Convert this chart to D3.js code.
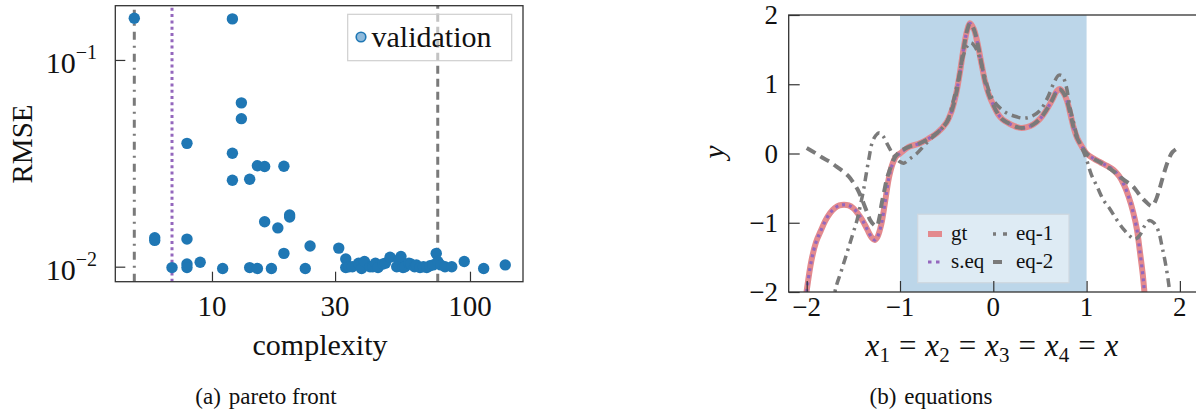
<!DOCTYPE html>
<html>
<head>
<meta charset="utf-8">
<script src="https://cdn.jsdelivr.net/npm/d3@7"></script>
<style>
  body { margin: 0; background: #fff; }
  svg { display: block; }
  svg text { font-family: "Liberation Serif", "Times New Roman", serif; fill: #111; }
</style>
</head>
<body>
<svg id="fig" width="1196" height="416" font-family="Liberation Serif, serif"></svg>
<script>
// ---------- (a) pareto front ----------
const complexity = [5, 6, 6, 7, 8, 8, 8, 8, 9, 11, 12, 12, 12, 13, 13, 14, 14, 15, 15, 16, 16, 17, 18, 19, 19, 20, 20, 23, 24, 31,
  33, 33, 34, 35, 37, 38, 39, 41, 42, 43, 44, 46, 47, 49, 52, 53, 54, 55, 56, 58, 59, 61, 62, 64, 66, 68, 70, 72, 74, 75, 77, 80, 85,
  95, 113, 137];
const rmse = [0.159, 0.0138, 0.0134, 0.0099, 0.0395, 0.0136, 0.0103, 0.0099, 0.0105, 0.0098, 0.158, 0.0354, 0.0262, 0.062, 0.052,
  0.0265, 0.0099, 0.0308, 0.0098, 0.0305, 0.0165, 0.0098, 0.0154, 0.0306, 0.0116, 0.0178, 0.0174, 0.0098, 0.0126, 0.0123,
  0.0109, 0.0099, 0.0100, 0.0100, 0.0104, 0.0098, 0.0106, 0.0100, 0.0100, 0.0104, 0.0099, 0.0103, 0.0104, 0.0111,
  0.0100, 0.0108, 0.0112, 0.0099, 0.0100, 0.0104, 0.0103, 0.0100, 0.0102, 0.0099, 0.0100, 0.0099, 0.0101, 0.0102, 0.0116,
  0.0106, 0.0102, 0.0100, 0.0100, 0.0106, 0.0098, 0.0102];
const markerNames = ["eq-1", "s.eq", "eq-2"];
const markerComplexity = [5, 7, 75];
const xTicksA = [10, 30, 100];
const yTicksA = [0.1, 0.01];
const yTickExpA = ["\u22121", "\u22122"];

// ---------- (b) equations ----------
const gtX = [-2.03, -2.0, -1.95, -1.9, -1.85, -1.8, -1.75, -1.7, -1.65, -1.6, -1.55, -1.5, -1.45, -1.4, -1.35, -1.3, -1.27, -1.24,
  -1.2, -1.16, -1.12, -1.08, -1.04, -1.0, -0.9, -0.8, -0.7, -0.6, -0.5, -0.45, -0.4, -0.36, -0.32, -0.28, -0.25, -0.21, -0.17,
  -0.13, -0.09, -0.05, 0.0, 0.05, 0.1, 0.16, 0.22, 0.29, 0.36, 0.43, 0.5, 0.57, 0.63, 0.68, 0.71, 0.75, 0.79, 0.83, 0.86, 0.9,
  0.95, 1.0, 1.07, 1.15, 1.22, 1.29, 1.35, 1.4, 1.45, 1.5, 1.54, 1.57, 1.6, 1.62, 1.64];
const gtY = [-2.3, -1.98, -1.55, -1.28, -1.12, -0.97, -0.86, -0.79, -0.75, -0.74, -0.75, -0.79, -0.87, -0.97, -1.1, -1.22, -1.25,
  -1.2, -1.02, -0.7, -0.36, -0.15, -0.04, 0.0, 0.1, 0.14, 0.21, 0.3, 0.45, 0.6, 0.85, 1.15, 1.5, 1.78, 1.88, 1.8, 1.6, 1.32, 1.05,
  0.86, 0.7, 0.57, 0.49, 0.44, 0.4, 0.37, 0.38, 0.42, 0.5, 0.63, 0.77, 0.9, 0.93, 0.88, 0.76, 0.55, 0.38, 0.22, 0.1, 0.0, -0.07,
  -0.13, -0.18, -0.24, -0.33, -0.45, -0.62, -0.85, -1.1, -1.4, -1.72, -2.0, -2.3];
// the selected equation coincides with the ground truth
const seqX = gtX;
const seqY = gtY;
const eq1X = [-1.72, -1.69, -1.63, -1.57, -1.51, -1.46, -1.42, -1.39, -1.36, -1.33, -1.3, -1.26, -1.22, -1.18, -1.13, -1.07, -1.0,
  -0.96, -0.9, -0.82, -0.75, -0.68, -0.6, -0.5, -0.43, -0.37, -0.32, -0.28, -0.24, -0.2, -0.15, -0.1, -0.05, 0.0, 0.07, 0.15, 0.25,
  0.32, 0.4, 0.5, 0.58, 0.65, 0.7, 0.74, 0.78, 0.82, 0.86, 0.9, 0.95, 1.0, 1.05, 1.12, 1.18, 1.25, 1.32, 1.4, 1.47, 1.52, 1.57,
  1.62, 1.67, 1.72, 1.77, 1.81, 1.85, 1.88, 1.9];
const eq1Y = [-2.2, -1.95, -1.7, -1.44, -1.18, -0.96, -0.72, -0.52, -0.28, -0.05, 0.15, 0.26, 0.3, 0.25, 0.12, -0.02, -0.12,
  -0.14, -0.08, 0.0, 0.1, 0.2, 0.3, 0.45, 0.75, 1.1, 1.42, 1.55, 1.6, 1.55, 1.4, 1.15, 0.92, 0.77, 0.66, 0.58, 0.53, 0.51, 0.53,
  0.62, 0.8, 1.02, 1.13, 1.12, 0.98, 0.68, 0.45, 0.24, 0.08, -0.09, -0.3, -0.5, -0.67, -0.8, -0.95, -1.1, -1.2, -1.24, -1.18,
  -1.05, -0.97, -1.0, -1.12, -1.35, -1.62, -1.88, -2.1];
const eq2X = [-2.0, -1.9, -1.82, -1.75, -1.68, -1.6, -1.55, -1.5, -1.45, -1.42, -1.39, -1.35, -1.32, -1.28, -1.25, -1.22, -1.2,
  -1.17, -1.14, -1.1, -1.07, -1.03, -1.0, -0.9, -0.8, -0.7, -0.6, -0.5, -0.45, -0.4, -0.36, -0.32, -0.28, -0.25, -0.21, -0.17,
  -0.13, -0.09, -0.05, 0.0, 0.05, 0.1, 0.16, 0.22, 0.29, 0.36, 0.43, 0.5, 0.57, 0.63, 0.68, 0.71, 0.75, 0.79, 0.83, 0.86, 0.9,
  0.95, 1.0, 1.07, 1.15, 1.22, 1.3, 1.4, 1.5, 1.57, 1.63, 1.7, 1.74, 1.78, 1.82, 1.87, 1.92, 1.98];
const eq2Y = [0.08, 0.0, -0.07, -0.12, -0.19, -0.27, -0.33, -0.42, -0.53, -0.62, -0.72, -0.86, -0.96, -1.03, -1.05, -0.92, -0.75,
  -0.55, -0.36, -0.2, -0.09, -0.01, 0.03, 0.1, 0.14, 0.21, 0.3, 0.45, 0.6, 0.85, 1.15, 1.5, 1.78, 1.88, 1.8, 1.6, 1.32, 1.05,
  0.86, 0.7, 0.57, 0.49, 0.44, 0.4, 0.37, 0.38, 0.42, 0.5, 0.63, 0.77, 0.9, 0.93, 0.88, 0.76, 0.55, 0.38, 0.22, 0.1, 0.0, -0.07,
  -0.13, -0.19, -0.27, -0.38, -0.48, -0.6, -0.69, -0.76, -0.68, -0.52, -0.33, -0.12, 0.02, 0.08];
const xTicksB = [-2, -1, 0, 1, 2];
const yTicksB = [-2, -1, 0, 1, 2];
const trainRange = [-1, 1];

const svg = d3.select("#fig");
const FRAME = "#333";
const C0 = "#1f77b4";
const GRAY = "#7a7a7a";
const PURPLE = "#9467bd";
const SALMON = "#e38a8e";
const fmtTick = v => (v < 0 ? "\u2212" : "") + Math.abs(v);

// ================= panel (a) =================
const xA = d3.scaleLog().domain([4.22, 160.5]).range([115.3, 523]);
const yA = d3.scaleLog().domain([0.00846, 0.183]).range([281.7, 5.7]);
const gA = svg.append("g");

gA.append("clipPath").attr("id", "clipA").append("rect")
  .attr("x", xA.range()[0]).attr("y", yA.range()[1])
  .attr("width", xA.range()[1] - xA.range()[0]).attr("height", yA.range()[0] - yA.range()[1]);

const vStyles = [
  { color: GRAY, dash: "8,6,2,6" },
  { color: PURPLE, dash: "3,3.3" },
  { color: GRAY, dash: "8,5" }
];
const plotA = gA.append("g").attr("clip-path", "url(#clipA)");
plotA.selectAll("line.vref").data(markerComplexity).join("line")
  .attr("class", "vref")
  .attr("x1", d => xA(d)).attr("x2", d => xA(d))
  .attr("y1", yA.range()[0]).attr("y2", yA.range()[1])
  .attr("stroke", (d, i) => vStyles[i].color)
  .attr("stroke-width", 3)
  .attr("stroke-dasharray", (d, i) => vStyles[i].dash);

plotA.selectAll("circle.pt").data(complexity).join("circle")
  .attr("class", "pt")
  .attr("cx", d => xA(d))
  .attr("cy", (d, i) => yA(rmse[i]))
  .attr("r", 5.7)
  .attr("fill", C0);

// legend (a)
const legA = gA.append("g");
legA.append("rect").attr("x", 347.7).attr("y", 14.3).attr("width", 164).attr("height", 46.4)
  .attr("fill", "#fff").attr("fill-opacity", 0.55).attr("stroke", "#cfcfcf").attr("stroke-width", 1.2);
legA.append("circle").attr("cx", 361).attr("cy", 37).attr("r", 4.8)
  .attr("fill", "#8fbadb").attr("stroke", C0).attr("stroke-width", 1.6);
legA.append("text").attr("x", 371.5).attr("y", 46.5).attr("font-size", 30).text("validation");

// axes (a)
const axA = d3.axisBottom(xA).tickValues(xTicksA).tickSizeInner(-10).tickSizeOuter(0).tickFormat("");
gA.append("g").attr("transform", `translate(0,${yA.range()[0]})`).call(axA)
  .call(g => g.select(".domain").remove())
  .call(g => g.selectAll(".tick line").attr("stroke", FRAME).attr("stroke-width", 1.2));
const ayA = d3.axisLeft(yA).tickValues(yTicksA).tickSizeInner(-10).tickSizeOuter(0).tickFormat("");
gA.append("g").attr("transform", `translate(${xA.range()[0]},0)`).call(ayA)
  .call(g => g.select(".domain").remove())
  .call(g => g.selectAll(".tick line").attr("stroke", FRAME).attr("stroke-width", 1.2));

gA.append("rect").attr("x", xA.range()[0]).attr("y", yA.range()[1])
  .attr("width", xA.range()[1] - xA.range()[0]).attr("height", yA.range()[0] - yA.range()[1])
  .attr("fill", "none").attr("stroke", FRAME).attr("stroke-width", 1.3);

gA.selectAll("text.xt").data(xTicksA).join("text").attr("class", "xt")
  .attr("x", d => xA(d)).attr("y", 316).attr("text-anchor", "middle").attr("font-size", 29)
  .text(d => d);
yTicksA.forEach((v, i) => {
  const t = gA.append("text").attr("x", 97).attr("y", yA(v) + 13.5).attr("text-anchor", "end").attr("font-size", 30);
  t.append("tspan").text("10");
  t.append("tspan").attr("font-size", 20).attr("dy", -14).text(yTickExpA[i]);
});
gA.append("text").attr("transform", "translate(32,144) rotate(-90)").attr("text-anchor", "middle")
  .attr("font-size", 29).text("RMSE");
gA.append("text").attr("x", 320).attr("y", 355).attr("text-anchor", "middle").attr("font-size", 30).text("complexity");
const capA = gA.append("text").attr("x", 266).attr("y", 404).attr("text-anchor", "middle").attr("font-size", 23);
capA.append("tspan").text("(a)");
capA.append("tspan").attr("dx", 8).text("pareto front");

// ================= panel (b) =================
const xB = d3.scaleLinear().domain([-2.193, 2.19]).range([788.7, 1197.6]);
const yB = d3.scaleLinear().domain([-2, 2]).range([292, 15]);
const gB = svg.append("g");

gB.append("clipPath").attr("id", "clipB").append("rect")
  .attr("x", xB.range()[0]).attr("y", yB.range()[1])
  .attr("width", xB.range()[1] - xB.range()[0]).attr("height", yB.range()[0] - yB.range()[1]);
const plotB = gB.append("g").attr("clip-path", "url(#clipB)");

plotB.append("rect")
  .attr("x", xB(trainRange[0])).attr("y", yB.range()[1])
  .attr("width", xB(trainRange[1]) - xB(trainRange[0])).attr("height", yB.range()[0] - yB.range()[1])
  .attr("fill", "#bcd6e9");

const line = d3.line().x(d => xB(d[0])).y(d => yB(d[1])).curve(d3.curveCatmullRom.alpha(0.5));
const zip = (xs, ys) => xs.map((x, i) => [x, ys[i]]);
const series = [
  { name: "gt", pts: zip(gtX, gtY), color: SALMON, width: 6, dash: null, legDash: null },
  { name: "s.eq", pts: zip(seqX, seqY), color: PURPLE, width: 3.2, dash: "3,4", legDash: "3.5,4.5" },
  { name: "eq-1", pts: zip(eq1X, eq1Y), color: GRAY, width: 3.5, dash: "9,5,2.5,5", legDash: "3,7,4,20" },
  { name: "eq-2", pts: zip(eq2X, eq2Y), color: GRAY, width: 4, dash: "10,6", legDash: "9,20" }
];
plotB.selectAll("path.curve").data(series).join("path").attr("class", "curve")
  .attr("d", d => line(d.pts))
  .attr("fill", "none")
  .attr("stroke", d => d.color)
  .attr("stroke-width", d => d.width)
  .attr("stroke-dasharray", d => d.dash);

// legend (b)
const legB = gB.append("g");
legB.append("rect").attr("x", 917.7).attr("y", 214.3).attr("width", 151.3).attr("height", 68.4)
  .attr("fill", "#fff").attr("fill-opacity", 0.5).attr("stroke", "#cfd8df").attr("stroke-width", 1.2);
const legPos = [[928, 234], [928, 262], [993, 234], [993, 262]];
series.forEach((s, k) => {
  const [lx, ly] = legPos[k];
  legB.append("line").attr("x1", lx).attr("x2", lx + 14).attr("y1", ly).attr("y2", ly)
    .attr("stroke", s.color).attr("stroke-width", s.width).attr("stroke-dasharray", s.legDash);
  legB.append("text").attr("x", lx + 23).attr("y", ly + 6).attr("font-size", 21).text(s.name);
});

// axes (b)
const axB = d3.axisBottom(xB).tickValues(xTicksB).tickSizeInner(-11).tickSizeOuter(0).tickFormat("");
gB.append("g").attr("transform", `translate(0,${yB.range()[0]})`).call(axB)
  .call(g => g.select(".domain").remove())
  .call(g => g.selectAll(".tick line").attr("stroke", FRAME).attr("stroke-width", 1.2));
const ayB = d3.axisLeft(yB).tickValues(yTicksB).tickSizeInner(-11).tickSizeOuter(0).tickFormat("");
gB.append("g").attr("transform", `translate(${xB.range()[0]},0)`).call(ayB)
  .call(g => g.select(".domain").remove())
  .call(g => g.selectAll(".tick line").attr("stroke", FRAME).attr("stroke-width", 1.2));
gB.append("rect").attr("x", xB.range()[0]).attr("y", yB.range()[1])
  .attr("width", xB.range()[1] - xB.range()[0]).attr("height", yB.range()[0] - yB.range()[1])
  .attr("fill", "none").attr("stroke", FRAME).attr("stroke-width", 1.3);

gB.selectAll("text.xt").data(xTicksB).join("text").attr("class", "xt")
  .attr("x", d => xB(d)).attr("y", 316).attr("text-anchor", "middle").attr("font-size", 27)
  .text(fmtTick);
gB.selectAll("text.yt").data(yTicksB).join("text").attr("class", "yt")
  .attr("x", 778).attr("y", d => yB(d) + 9).attr("text-anchor", "end").attr("font-size", 27)
  .text(fmtTick);
gB.append("text").attr("transform", "translate(724,152) rotate(-90)").attr("text-anchor", "middle")
  .attr("font-size", 30).attr("font-style", "italic").text("y");

// x-axis label: x1 = x2 = x3 = x4 = x
const xl = gB.append("text").attr("x", 992).attr("y", 356).attr("text-anchor", "middle").attr("font-size", 31);
const parts = [["x", "1"], ["x", "2"], ["x", "3"], ["x", "4"], ["x", null]];
parts.forEach(([v, sub], i) => {
  xl.append("tspan").attr("font-style", "italic").attr("dx", i === 0 ? 0 : 9).text(v);
  if (sub) {
    xl.append("tspan").attr("font-size", 21).attr("dy", 6).text(sub);
    xl.append("tspan").attr("dy", -6).attr("dx", 9).text("=");
  }
});
const capB = gB.append("text").attr("x", 931).attr("y", 404).attr("text-anchor", "middle").attr("font-size", 23);
capB.append("tspan").text("(b)");
capB.append("tspan").attr("dx", 8).text("equations");
</script>
</body>
</html>
